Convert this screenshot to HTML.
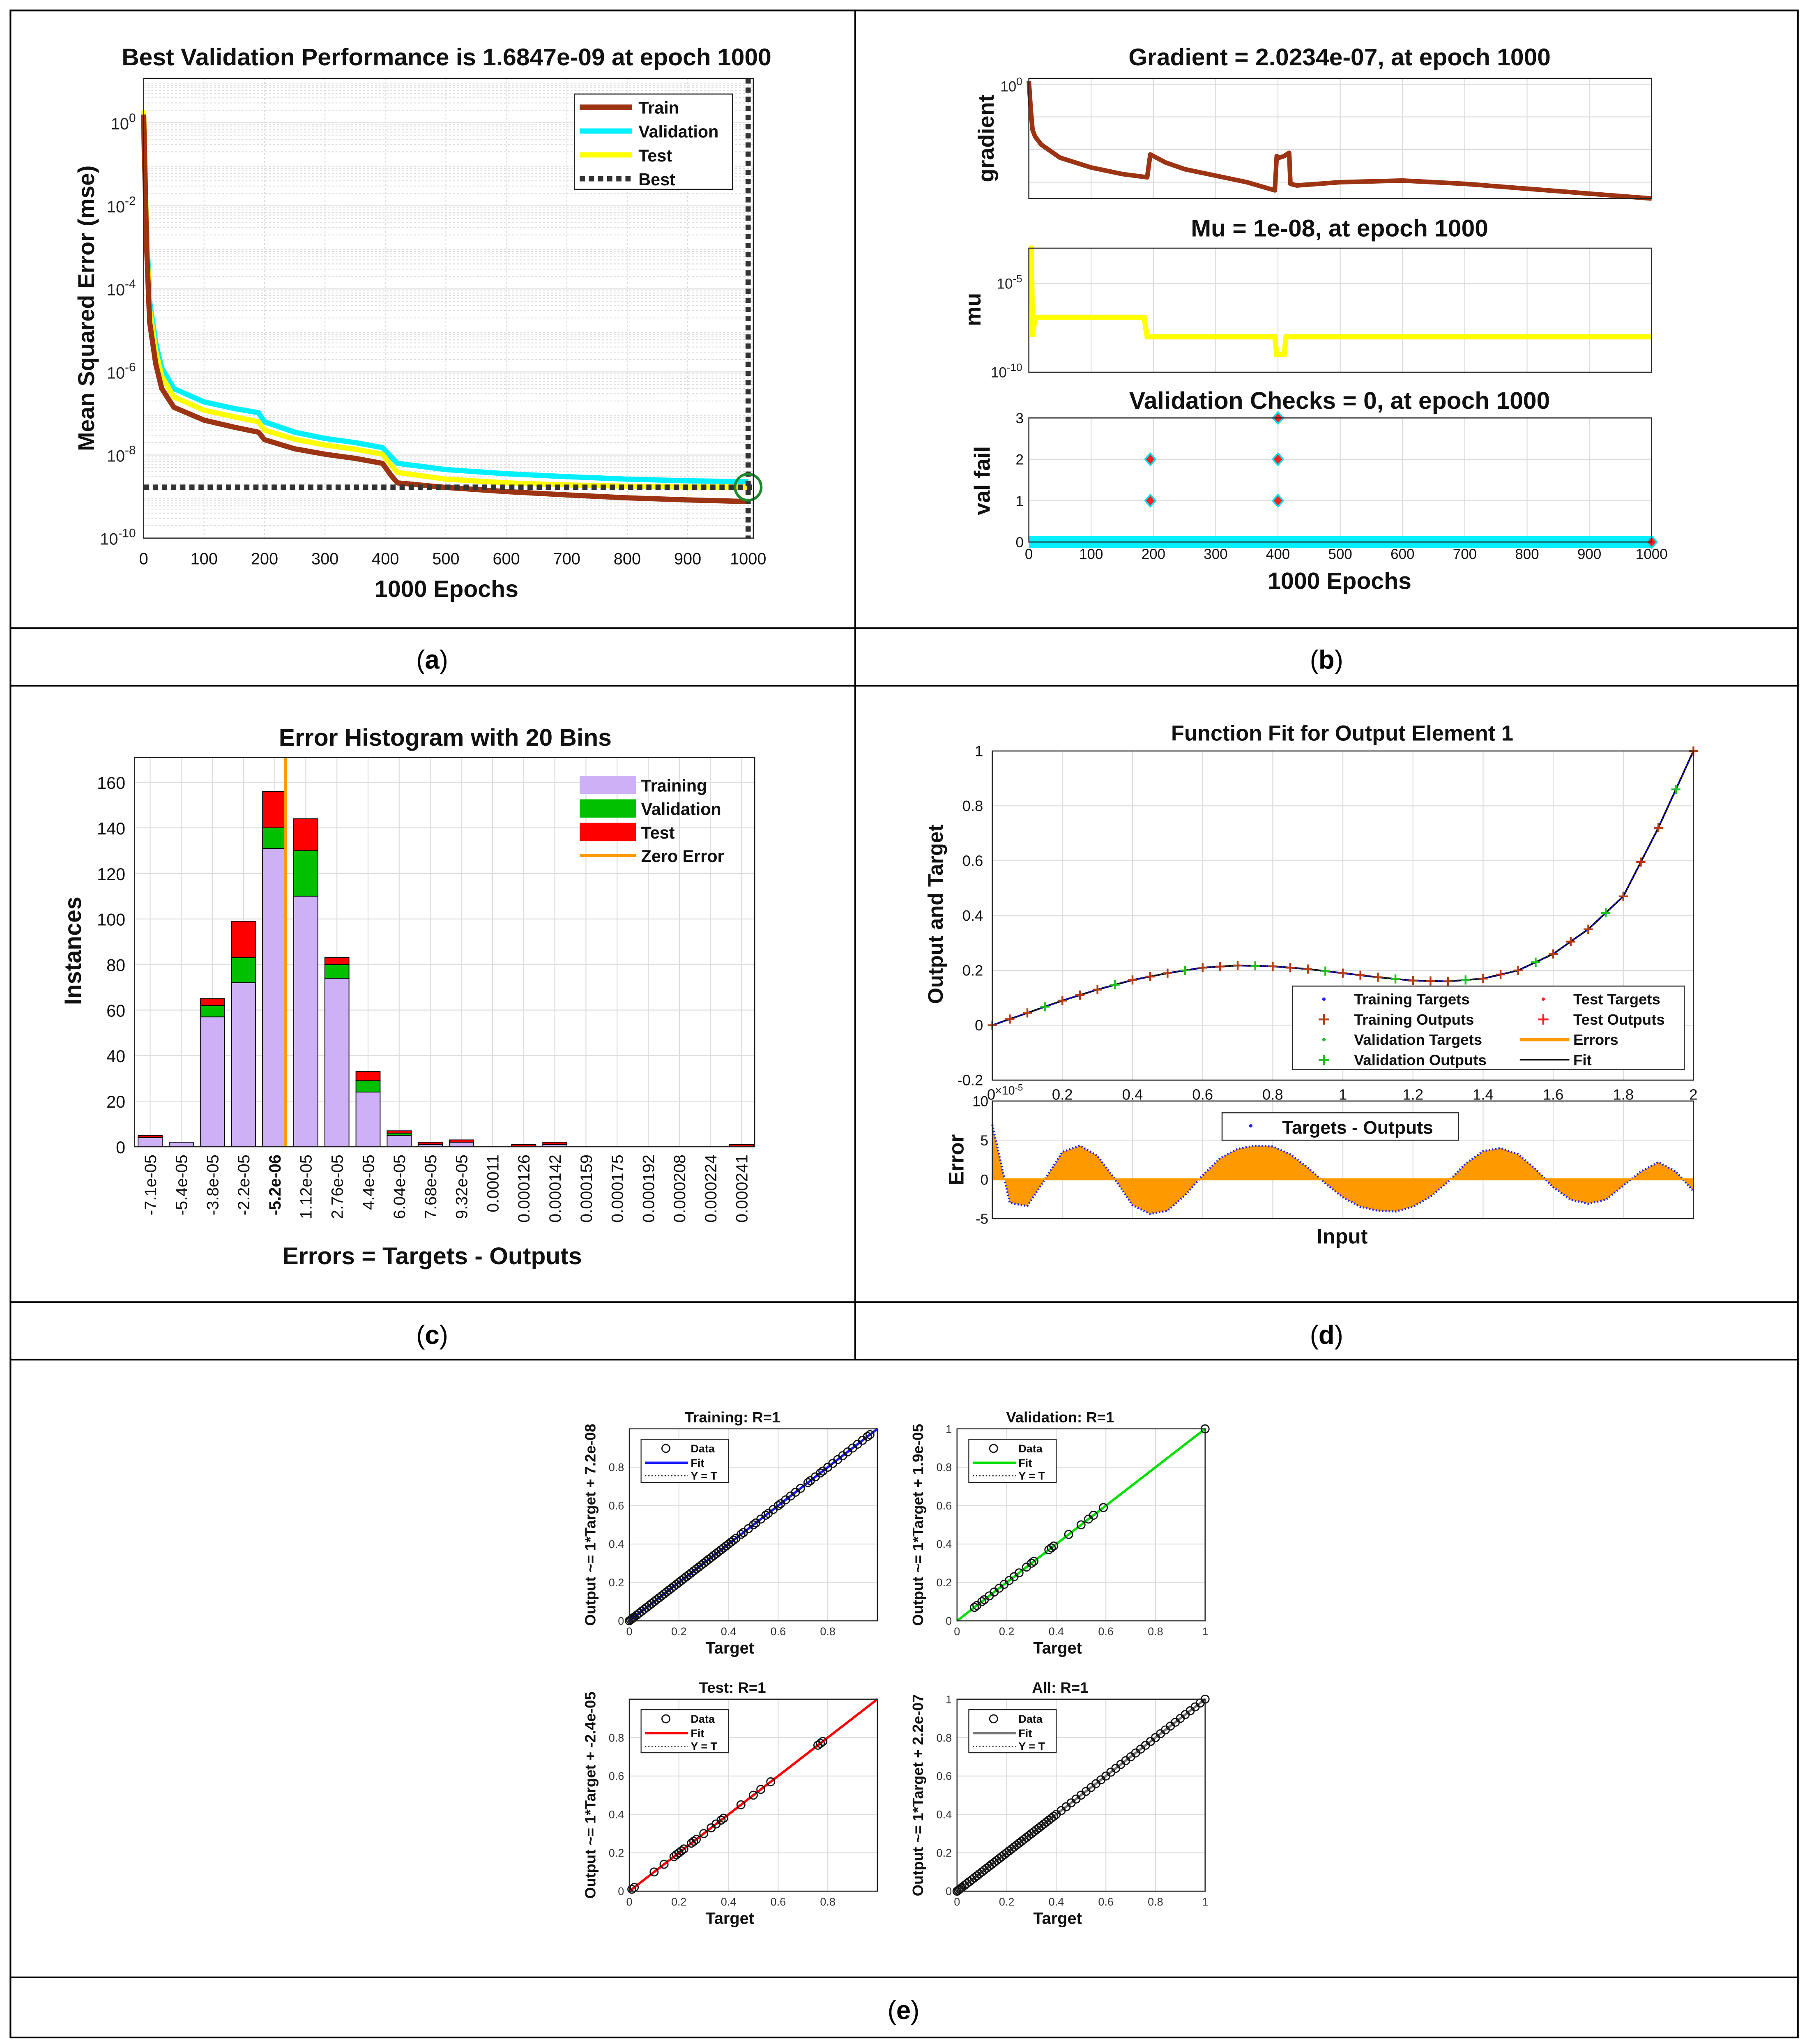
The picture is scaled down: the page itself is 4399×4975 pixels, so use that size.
<!DOCTYPE html>
<html><head><meta charset="utf-8"><style>
html,body{margin:0;padding:0;background:#fff}
svg{display:block}
text{font-family:"Liberation Sans",Arial,sans-serif}
</style></head><body>
<svg id="root" xmlns="http://www.w3.org/2000/svg" width="4399" height="4975" viewBox="0 0 1384 1565" preserveAspectRatio="none">
<rect x="0" y="0" width="1384" height="1565" fill="#fff"/>
</svg>
<script>
// ---------- DATA ----------
const perfEpochs=[0,5,10,20,30,50,100,150,190,200,250,300,350,395,410,420,500,600,700,800,900,1000];
const trainLog=[0.2,-3,-4.8,-5.8,-6.4,-6.85,-7.16,-7.33,-7.45,-7.63,-7.85,-7.98,-8.08,-8.2,-8.5,-8.67,-8.78,-8.88,-8.96,-9.03,-9.08,-9.12];
const valLog=[-0.2,-2.6,-4.3,-5.3,-5.9,-6.4,-6.72,-6.88,-6.98,-7.2,-7.45,-7.6,-7.7,-7.82,-8.05,-8.2,-8.35,-8.45,-8.52,-8.58,-8.62,-8.64];
const testLog=[0.3,-2.8,-4.5,-5.5,-6.1,-6.6,-6.92,-7.08,-7.2,-7.4,-7.62,-7.76,-7.86,-7.98,-8.25,-8.42,-8.58,-8.67,-8.72,-8.75,-8.77,-8.77];
const bestEpoch=1000, bestPerf=1.6847e-9;
const perfTicksX=[0,100,200,300,400,500,600,700,800,900,1000];
const perfTicksY=[0,-2,-4,-6,-8,-10];
const gradEpochs=[0,3,6,10,20,50,100,150,190,195,220,250,300,350,395,398,402,410,418,420,430,500,600,700,800,900,1000];
const gradLog=[0.2,-1.5,-2.8,-3.2,-3.7,-4.5,-5.1,-5.5,-5.7,-4.3,-4.8,-5.2,-5.6,-6.0,-6.5,-4.4,-4.5,-4.4,-4.2,-6.1,-6.2,-6.0,-5.9,-6.1,-6.4,-6.7,-7.0];
const muEpochs=[0,4,6,10,185,190,395,398,410,413,1000];
const muLog=[-3,-3,-8,-6.9,-6.9,-8,-8,-9,-9,-8,-8];
const failEpochs=[195,195,400,400,400,1000];
const failVals=[1,2,1,2,3,0];
const binLabels=["-7.1e-05","-5.4e-05","-3.8e-05","-2.2e-05","-5.2e-06","1.12e-05","2.76e-05","4.4e-05","6.04e-05","7.68e-05","9.32e-05","0.00011","0.000126","0.000142","0.000159","0.000175","0.000192","0.000208","0.000224","0.000241"];
const histTrain=[4,2,57,72,131,110,74,24,5,1,2,0,0,1,0,0,0,0,0,0];
const histVal=[0,0,5,11,9,20,6,5,1,0,0,0,0,0,0,0,0,0,0,0];
const histTest=[1,0,3,16,16,14,3,4,1,1,1,0,1,1,0,0,0,0,0,1];
const zeroErrorBin=4.35;
const fitX=[0,0.1,0.2,0.3,0.4,0.5,0.6,0.7,0.8,0.9,1.0,1.1,1.2,1.3,1.4,1.5,1.6,1.7,1.8,1.9,2.0];
const fitY=[0,0.045,0.09,0.13,0.165,0.19,0.21,0.218,0.215,0.205,0.19,0.175,0.163,0.16,0.17,0.2,0.26,0.35,0.47,0.72,1.0];
const errX=[0,0.05,0.1,0.15,0.2,0.25,0.3,0.35,0.4,0.45,0.5,0.55,0.6,0.65,0.7,0.75,0.8,0.85,0.9,0.95,1.0,1.05,1.1,1.15,1.2,1.25,1.3,1.35,1.4,1.45,1.5,1.55,1.6,1.65,1.7,1.75,1.8,1.85,1.9,1.95,2.0];
const errV=[7,-3,-3.4,0,3.5,4.3,3,0,-3.3,-4.4,-4,-2,0.5,2.7,3.9,4.3,4.2,3.2,1.5,-0.5,-2.3,-3.5,-4,-4.1,-3.5,-2.2,-0.3,2,3.6,4,3.2,1.3,-1,-2.6,-3.1,-2.6,-0.8,1,2.2,1,-1.5];
const regTrain=[0.0,0.005,0.01,0.015,0.02,0.03,0.04,0.05,0.06,0.07,0.08,0.09,0.1,0.11,0.12,0.13,0.14,0.15,0.16,0.17,0.18,0.19,0.2,0.21,0.22,0.23,0.24,0.25,0.26,0.27,0.28,0.29,0.3,0.31,0.32,0.33,0.34,0.35,0.36,0.37,0.38,0.39,0.4,0.41,0.42,0.43,0.45,0.46,0.48,0.5,0.51,0.53,0.55,0.56,0.58,0.6,0.61,0.63,0.65,0.67,0.69,0.72,0.73,0.75,0.77,0.78,0.8,0.82,0.84,0.86,0.88,0.9,0.92,0.94,0.96,0.97];
const regVal=[0.07,0.08,0.1,0.11,0.13,0.15,0.17,0.19,0.21,0.23,0.25,0.28,0.3,0.31,0.37,0.38,0.39,0.45,0.5,0.53,0.55,0.59,1.0];
const regTest=[0.01,0.02,0.1,0.14,0.18,0.19,0.2,0.21,0.22,0.25,0.26,0.27,0.3,0.33,0.35,0.37,0.38,0.45,0.5,0.53,0.57,0.76,0.77,0.78];
const regAll=[0.0,0.005,0.01,0.015,0.02,0.03,0.04,0.05,0.06,0.07,0.08,0.09,0.1,0.11,0.12,0.13,0.14,0.15,0.16,0.17,0.18,0.19,0.2,0.21,0.22,0.23,0.24,0.25,0.26,0.27,0.28,0.29,0.3,0.31,0.32,0.33,0.34,0.35,0.36,0.37,0.38,0.39,0.4,0.42,0.44,0.46,0.48,0.5,0.52,0.54,0.56,0.58,0.6,0.62,0.64,0.66,0.68,0.7,0.72,0.74,0.76,0.78,0.8,0.82,0.84,0.86,0.88,0.9,0.92,0.94,0.96,0.98,1.0];
const unitTicks=[0,0.2,0.4,0.6,0.8,1];

// ---------- HELPERS ----------
const NS="http://www.w3.org/2000/svg";
const root=document.getElementById('root');
function mk(tag,attrs,parent){const e=document.createElementNS(NS,tag);for(const k in attrs)e.setAttribute(k,attrs[k]);(parent||root).appendChild(e);return e;}
function txt(s,x,y,size,opts,parent){const o=Object.assign({x:x,y:y,'font-size':size,fill:'#111'},opts||{});const t=mk('text',o,parent);t.textContent=s;return t;}
function grp(name){const g=mk('g',{});
return g;}
function lin(a,b,c,d){return v=>c+(v-a)*(d-c)/(b-a);}
function pathD(xs,ys,sx,sy){return xs.map((v,i)=>(i?'L':'M')+sx(v).toFixed(2)+' '+sy(ys[i]).toFixed(2)).join(' ');}
function box(g,x,y,w,h){const r=mk('rect',{x:x,y:y,width:w,height:h,fill:'none',stroke:'#222','stroke-width':0.8},g);
return r;}
function gridV(g,xs,y0,y1,dash){xs.forEach(x=>{const l=mk('line',{x1:x,x2:x,y1:y0,y2:y1,stroke:'#dcdcdc','stroke-width':0.7,'stroke-dasharray':dash||'none'},g);
});}
function gridH(g,ys,x0,x1,dash){ys.forEach(y=>{const l=mk('line',{x1:x0,x2:x1,y1:y,y2:y,stroke:'#dcdcdc','stroke-width':0.7,'stroke-dasharray':dash||'none'},g);
});}
function logLabel(g,exp,x,y,size){const t=mk('text',{x:x,y:y,'font-size':size,fill:'#222','text-anchor':'end'},g);

const a=mk('tspan',{},t);a.textContent='10';const b=mk('tspan',{dy:-size*0.45,'font-size':size*0.75},t);b.textContent=String(exp);}

// ---------- TABLE FRAME ----------
const frame=grp('table-frame');
mk('rect',{x:8,y:8,width:1369,height:1552,fill:'none',stroke:'#000','stroke-width':1.3},frame);
[481,525,997,1041,1514].forEach(y=>{const l=mk('line',{x1:8,x2:1377,y1:y,y2:y,stroke:'#000','stroke-width':1.3},frame);
});
const vl=mk('line',{x1:655,x2:655,y1:8,y2:1041,stroke:'#000','stroke-width':1.3},frame);

[['(a)',331,512],['(b)',1016,512],['(c)',331,1029],['(d)',1016,1029],['(e)',692,1546]].forEach(c=>{const t=mk('text',{x:c[1],y:c[2],'font-size':20,'text-anchor':'middle','font-family':'Liberation Serif, serif'},frame);


t.innerHTML='(<tspan font-weight="bold">'+c[0][1]+'</tspan>)';});

// ---------- PANEL A ----------
(function(){
const g=grp('performance-chart');
const X0=110,X1=577,Y0=60,Y1=412;
const sx=lin(0,1000,110,573), sy=lin(-10,1.07,412,60);
const minors=[];for(let d=-10;d<1;d++){for(let m=2;m<10;m++){const v=d+Math.log10(m);if(v<1.07)minors.push(sy(v));}}
gridH(g,minors,X0,X1,'1.5,1.5');
gridH(g,perfTicksY.map(sy),X0,X1);
gridV(g,perfTicksX.map(sx),Y0,Y1,'1.5,1.5');
const series=[[trainLog,'#9c3413','train-line'],[valLog,'#00f0ff','validation-line'],[testLog,'#ffff00','test-line']];
[series[1],series[2],series[0]].forEach(s=>{const p=mk('path',{d:pathD(perfEpochs,s[0],sx,sy),fill:'none',stroke:s[1],'stroke-width':4,'stroke-linejoin':'round'},g);
});
const by=sy(Math.log10(bestPerf)), bx=sx(bestEpoch);
const bh=mk('line',{x1:X0,x2:X1,y1:by,y2:by,stroke:'#333','stroke-width':4,'stroke-dasharray':'4,3'},g);
const bv=mk('line',{x1:bx,x2:bx,y1:Y0,y2:Y1,stroke:'#333','stroke-width':4,'stroke-dasharray':'4,3'},g);
const bc=mk('circle',{cx:bx,cy:by,r:10,fill:'none',stroke:'#1a8a2a','stroke-width':2},g);

box(g,X0,Y0,X1-X0,Y1-Y0);
perfTicksX.forEach(v=>{const t=txt(String(v),sx(v),432,12.5,{'text-anchor':'middle'},g);
});
perfTicksY.forEach(v=>logLabel(g,v,104,sy(v)+5,12.5));
const tt=txt('Best Validation Performance is 1.6847e-09 at epoch 1000',342,50,18.5,{'text-anchor':'middle','font-weight':'bold'},g);
const xl=txt('1000 Epochs',342,457,18,{'text-anchor':'middle','font-weight':'bold'},g);
const yl=txt('Mean Squared Error  (mse)',0,0,17.5,{'text-anchor':'middle','font-weight':'bold',transform:'translate(72,236) rotate(-90)'},g);
const lg=grp('legend');mk('rect',{x:440,y:72,width:121,height:73,fill:'#fff',stroke:'#222','stroke-width':0.8},lg);
[['Train','#9c3413',''],['Validation','#00f0ff',''],['Test','#ffff00',''],['Best','#333','4,3']].forEach((e,i)=>{const y=82+i*18.3;
const l=mk('line',{x1:444,x2:484,y1:y,y2:y,stroke:e[1],'stroke-width':4,'stroke-dasharray':e[2]||'none'},lg);
const t=txt(e[0],489,y+5,13,{'font-weight':'bold'},lg);
});
})();

// ---------- PANEL B ----------
(function(){
const g=grp('training-state-chart');
const X0=788,X1=1265;const sx=lin(0,1000,X0,X1);
const xt=[0,100,200,300,400,500,600,700,800,900,1000];
const sy1=lin(-7,0.2,152,62);
gridV(g,xt.map(sx),60,152);gridH(g,[-6,-4,-2,0].map(sy1),X0,X1);
const gp=mk('path',{d:pathD(gradEpochs,gradLog,sx,sy1),fill:'none',stroke:'#9c3413','stroke-width':3.5,'stroke-linejoin':'round'},g);
box(g,X0,60,X1-X0,92);logLabel(g,0,783,70,11);
const t1=txt('Gradient = 2.0234e-07, at epoch 1000',1026,50,18.5,{'text-anchor':'middle','font-weight':'bold'},g);
const y1=txt('gradient',0,0,17,{'text-anchor':'middle','font-weight':'bold',transform:'translate(761,106) rotate(-90)'},g);
const sy2=lin(-10,-3,285,190);
gridV(g,xt.map(sx),190,285);gridH(g,[-5].map(sy2),X0,X1);
const mp=mk('path',{d:pathD(muEpochs,muLog,sx,sy2),fill:'none',stroke:'#ffff00','stroke-width':4},g);
box(g,X0,190,X1-X0,95);logLabel(g,-5,783,221,11);logLabel(g,-10,783,289,11);
const t2=txt('Mu = 1e-08, at epoch 1000',1026,181,18.5,{'text-anchor':'middle','font-weight':'bold'},g);
const y2=txt('mu',0,0,17,{'text-anchor':'middle','font-weight':'bold',transform:'translate(751,237) rotate(-90)'},g);
const sy3=lin(0,3,415,320);
gridV(g,xt.map(sx),320,415);gridH(g,[1,2].map(sy3),X0,X1);
const cl=mk('line',{x1:X0,x2:X1,y1:sy3(0),y2:sy3(0),stroke:'#00f0ff','stroke-width':9},g);
failEpochs.forEach((e,i)=>{const x=sx(e),y=sy3(failVals[i]);const d=mk('path',{d:`M${x} ${y-4.5}L${x+4} ${y}L${x} ${y+4.5}L${x-4} ${y}Z`,fill:'#ff2020',stroke:'#00e0f0','stroke-width':1.2},g);
});
box(g,X0,320,X1-X0,95);
[0,1,2,3].forEach(v=>{const t=txt(String(v),784,sy3(v)+4,11,{'text-anchor':'end'},g);
});
xt.forEach(v=>{const t=txt(String(v),sx(v),428,11,{'text-anchor':'middle'},g);
});
const t3=txt('Validation Checks = 0, at epoch 1000',1026,313,18.5,{'text-anchor':'middle','font-weight':'bold'},g);
const y3=txt('val fail',0,0,17,{'text-anchor':'middle','font-weight':'bold',transform:'translate(758,368) rotate(-90)'},g);
const xl=txt('1000 Epochs',1026,451,18,{'text-anchor':'middle','font-weight':'bold'},g);
})();

// ---------- PANEL C ----------
(function(){
const g=grp('error-histogram');
const X0=103,X1=578,Y0=580,Y1=878;
const sx=lin(0,19,115,568), sy=lin(0,160,878,599);
const yt=[0,20,40,60,80,100,120,140,160];
gridH(g,yt.map(sy),X0,X1);gridV(g,binLabels.map((b,i)=>sx(i)),Y0,Y1);
binLabels.forEach((b,i)=>{const w=18.5,x=sx(i)-w/2;let base=0;
[[histTrain[i],'#cdb0f5','bar-training'],[histVal[i],'#00c000','bar-validation'],[histTest[i],'#ff0000','bar-test']].forEach(s=>{if(s[0]>0){const r=mk('rect',{x:x,y:sy(base+s[0]),width:w,height:sy(base)-sy(base+s[0]),fill:s[1],stroke:'#000','stroke-width':0.6},g);
base+=s[0];}});
const t=txt(b,0,0,12.5,{'text-anchor':'end',transform:`translate(${sx(i)+4.5},884) rotate(-90)`,'font-weight':i===4?'bold':'normal'},g);
});
const zl=mk('line',{x1:sx(zeroErrorBin),x2:sx(zeroErrorBin),y1:Y0,y2:Y1,stroke:'#ff9900','stroke-width':2.5},g);
box(g,X0,Y0,X1-X0,Y1-Y0);
yt.forEach(v=>{const t=txt(String(v),96,sy(v)+5,13,{'text-anchor':'end'},g);
});
const tt=txt('Error Histogram with 20 Bins',341,571,18.5,{'text-anchor':'middle','font-weight':'bold'},g);
const yl=txt('Instances',0,0,18,{'text-anchor':'middle','font-weight':'bold',transform:'translate(62,728) rotate(-90)'},g);
const xl=txt('Errors = Targets - Outputs',331,968,18.5,{'text-anchor':'middle','font-weight':'bold'},g);
const lg=grp('legend');
[['Training','#cdb0f5'],['Validation','#00c000'],['Test','#ff0000'],['Zero Error','#ff9900']].forEach((e,i)=>{const y=601+i*18;
const s=i<3?mk('rect',{x:444,y:y-7,width:43,height:14,fill:e[1]},lg):mk('line',{x1:444,x2:487,y1:y,y2:y,stroke:e[1],'stroke-width':2.5},lg);
const t=txt(e[0],491,y+5,13,{'font-weight':'bold'},lg);
});
})();

// ---------- PANEL D ----------
(function(){
const g=grp('function-fit-chart');
const X0=760,X1=1297;const sx=lin(0,2,X0,X1);const sy=lin(-0.2,1,827,575);
const xt=[0,0.2,0.4,0.6,0.8,1,1.2,1.4,1.6,1.8,2],yt=[-0.2,0,0.2,0.4,0.6,0.8,1];
gridV(g,xt.map(sx),575,827);gridH(g,yt.map(sy),X0,X1);
const fl=mk('path',{d:pathD(fitX,fitY,sx,sy),fill:'none',stroke:'#000','stroke-width':1.3},g);
const dt=mk('path',{d:pathD(fitX,fitY,sx,sy),fill:'none',stroke:'#2020ff','stroke-width':1.5,'stroke-dasharray':'1,2'},g);
fitX.forEach((x,i)=>{const cx=sx(x),cy=sy(fitY[i]);
const m=mk('path',{d:`M${cx-3.5} ${cy}H${cx+3.5}M${cx} ${cy-3.5}V${cy+3.5}`,stroke:'#b04010','stroke-width':1.4},g);

if(i<fitX.length-1){const cx2=sx(x+0.05),cy2=sy((fitY[i]+fitY[i+1])/2);
const m2=mk('path',{d:`M${cx2-3.5} ${cy2}H${cx2+3.5}M${cx2} ${cy2-3.5}V${cy2+3.5}`,stroke:i%2?'#20c020':'#c03010','stroke-width':1.4},g);
}});
box(g,X0,575,X1-X0,252);
yt.forEach(v=>{const t=txt(String(v),753,sy(v)+4,11.5,{'text-anchor':'end'},g);
});
xt.forEach(v=>{if(v===0)return;const t=txt(String(v),sx(v),842,11.5,{'text-anchor':'middle'},g);
});
const ex=txt('0',756,842,11.5,{},g);
const sc=mk('text',{x:762,y:838,'font-size':9,fill:'#111'},g);sc.innerHTML='×10<tspan dy="-3" font-size="7">-5</tspan>';
const tt=txt('Function Fit for Output Element 1',1028,567,16.5,{'text-anchor':'middle','font-weight':'bold'},g);
const yl=txt('Output and Target',0,0,16,{'text-anchor':'middle','font-weight':'bold',transform:'translate(722,700) rotate(-90)'},g);
const lg=grp('legend');mk('rect',{x:990,y:755,width:300,height:64,fill:'#fff',stroke:'#222','stroke-width':0.8},lg);
[['Training Targets','#2020ff','dot'],['Training Outputs','#b04010','plus'],['Validation Targets','#20c020','dot'],['Validation Outputs','#20c020','plus'],['Test Targets','#ff2020','dot'],['Test Outputs','#ff2020','plus'],['Errors','#ff9900','line'],['Fit','#000','line']].forEach((e,i)=>{const col=i<4?0:1,row=i%4;const x=col?1162:994,y=765+row*15.5;
const cx=x+20;let s;
if(e[2]==='dot')s=mk('circle',{cx:cx,cy:y,r:1.3,fill:e[1]},lg);else if(e[2]==='plus')s=mk('path',{d:`M${cx-4} ${y}H${cx+4}M${cx} ${y-4}V${y+4}`,stroke:e[1],'stroke-width':1.4},lg);else s=mk('line',{x1:x+2,x2:x+40,y1:y,y2:y,stroke:e[1],'stroke-width':e[0]==='Fit'?1:2.5},lg);

const t=txt(e[0],x+43,y+4,11.5,{'font-weight':'bold'},lg);
});
const ey=lin(-5,10,933,843);
gridV(g,xt.map(sx),843,933);gridH(g,[-5,0,5,10].map(ey),X0,X1);
let area='M'+sx(errX[0])+' '+ey(0);errX.forEach((x,i)=>{area+='L'+sx(x).toFixed(2)+' '+ey(errV[i]).toFixed(2);});area+='L'+sx(errX[errX.length-1])+' '+ey(0)+'Z';
const ea=mk('path',{d:area,fill:'#ff9900',stroke:'none'},g);
const ed=mk('path',{d:pathD(errX,errV,sx,ey),fill:'none',stroke:'#2020ff','stroke-width':1.6,'stroke-dasharray':'1,1.5'},g);
const zl=mk('line',{x1:X0,x2:X1,y1:ey(0),y2:ey(0),stroke:'#ff9900','stroke-width':1.5},g);
box(g,X0,843,X1-X0,90);
[-5,0,5,10].forEach(v=>{const t=txt(String(v),757,ey(v)+4,11,{'text-anchor':'end'},g);
});
const el2=txt('Error',0,0,16,{'text-anchor':'middle','font-weight':'bold',transform:'translate(738,888) rotate(-90)'},g);
const il=txt('Input',1028,952,16,{'text-anchor':'middle','font-weight':'bold'},g);
const lb=grp('error-legend');mk('rect',{x:936,y:852,width:181,height:21,fill:'#fff',stroke:'#222','stroke-width':0.8},lb);
mk('circle',{cx:958,cy:862,r:1.3,fill:'#2020ff'},lb);
const lt=txt('Targets - Outputs',982,868,14,{'font-weight':'bold'},lb);
})();

// ---------- PANEL E ----------
function regPlot(name,X0,Y0,title,ylab,pts,col,xmax,showOne){
const g=grp(name);const W=190,H=147;const sx=lin(0,1,X0,X0+W),sy=lin(0,1,Y0+H,Y0);
gridV(g,unitTicks.map(sx),Y0,Y0+H);gridH(g,unitTicks.map(sy),X0,X0+W);
const yt=mk('line',{x1:sx(0),y1:sy(0),x2:sx(xmax),y2:sy(xmax),stroke:'#000','stroke-width':0.8,'stroke-dasharray':'1,1.5'},g);
const fl=mk('line',{x1:sx(0),y1:sy(0),x2:sx(xmax),y2:sy(xmax),stroke:col,'stroke-width':1.8},g);
pts.forEach(v=>{const c=mk('circle',{cx:sx(v),cy:sy(v),r:3,fill:'none',stroke:'#111','stroke-width':0.9},g);
});
box(g,X0,Y0,W,H);
unitTicks.forEach(v=>{if(v===1&&!showOne)return;const t=txt(String(v),X0-4,sy(v)+3,8.5,{'text-anchor':'end',fill:'#333'},g);

const t2=txt(String(v),sx(v),Y0+H+11,8.5,{'text-anchor':'middle',fill:'#333'},g);
});
const tt=txt(title,X0+W/2-16,Y0-5,11.5,{'text-anchor':'middle','font-weight':'bold'},g);
const xl=txt('Target',X0+W/2-18,Y0+H+25,12.5,{'text-anchor':'middle','font-weight':'bold'},g);
const yl=txt(ylab,0,0,11.5,{'text-anchor':'middle','font-weight':'bold',transform:`translate(${X0-26},${Y0+H/2}) rotate(-90)`},g);
const lg=grp('legend');mk('rect',{x:X0+9,y:Y0+8,width:67,height:33,fill:'#fff',stroke:'#222','stroke-width':0.7},lg);
mk('circle',{cx:X0+28,cy:Y0+15,r:3,fill:'none',stroke:'#111','stroke-width':0.9},lg);
mk('line',{x1:X0+12,x2:X0+45,y1:Y0+26,y2:Y0+26,stroke:col,'stroke-width':1.8},lg);
mk('line',{x1:X0+12,x2:X0+45,y1:Y0+36,y2:Y0+36,stroke:'#000','stroke-width':0.7,'stroke-dasharray':'1,1.5'},lg);
[['Data',18],['Fit',29],['Y = T',39]].forEach(e=>{const t=txt(e[0],X0+47,Y0+e[1],8.5,{'font-weight':'bold'},lg);
});
}
regPlot('training-regression',482,1094,'Training: R=1','Output ~= 1*Target + 7.2e-08',regTrain,'#1a1aff',1,false);
regPlot('validation-regression',733,1094,'Validation: R=1','Output ~= 1*Target + 1.9e-05',regVal,'#00e000',1,true);
regPlot('test-regression',482,1301,'Test: R=1','Output ~= 1*Target + -2.4e-05',regTest,'#ff0000',1,false);
regPlot('all-regression',733,1301,'All: R=1','Output ~= 1*Target + 2.2e-07',regAll,'#777',1,true);
</script>
</body></html>
